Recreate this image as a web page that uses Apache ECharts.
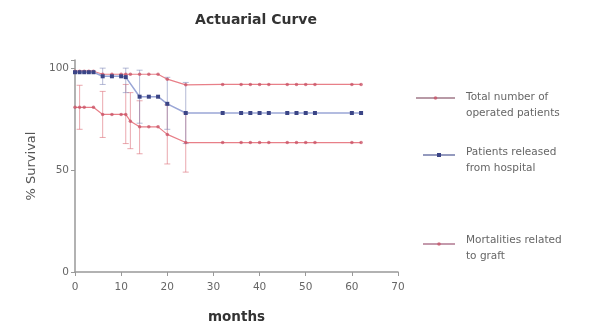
<!DOCTYPE html>
<html><head><meta charset="utf-8">
<script src="https://cdn.jsdelivr.net/npm/echarts@6/dist/echarts.min.js"></script>
<style>html,body{margin:0;padding:0;background:#fff}#c{width:597px;height:326px}</style>
</head><body><div id="c"></div>
<script>
// ---- data ----
const xTicks = [0,10,20,30,40,50,60,70];
const yTicks = [0,50,100];
const totalName = 'Total number of\noperated patients';
const blueName = 'Patients released\nfrom hospital';
const graftName = 'Mortalities related\nto graft';

const totalMonths = [0,1,2,3,4,6,8,10,11,12,14,16,18,20,24,32,36,38,40,42,46,48,50,52,60,62];
const totalVals   = [98.5,98.5,98.5,98.5,98.5,97,97,97,97,97,97,97,97,94.6,91.8,92,92,92,92,92,92,92,92,92,92,92];

const blueMonths = [0,1,2,3,4,6,8,10,11,14,16,18,20,24,32,36,38,40,42,46,48,50,52,60,62];
const blueVals   = [98,98,98,98,98,96,96,96,95.6,86,86,86,82.5,78,78,78,78,78,78,78,78,78,78,78,78];

const graftMonths = [0,1,2,4,6,8,10,11,12,14,16,18,20,24,32,36,38,40,42,46,48,50,52,60,62];
const graftVals   = [80.8,80.8,80.8,80.8,77.3,77.3,77.3,77.3,74,71.2,71.2,71.2,67.5,63.5,63.5,63.5,63.5,63.5,63.5,63.5,63.5,63.5,63.5,63.5,63.5];

const graftErrMonths = [1,6,11,12,14,20,24];
const graftErrLo     = [70,66,63,60.5,58,53,49];
const graftErrHi     = [91.6,88.6,92,88,84,82,78];

const blueErrMonths = [6,11,14,20,24];
const blueErrLo     = [92,88,73,70,63];
const blueErrHi     = [100,100,99,95.5,93];

// ---- chart ----
const RED = '#e87f88', RED_M = 'rgba(200,80,100,0.75)', BLUE_L = '#9aa6d6', BLUE_M = '#3b4586';
const font = 'DejaVu Sans';
function zip(a,b){return a.map((v,i)=>[v,b[i]]);}
function errData(m,lo,hi){return m.map((v,i)=>[v,lo[i],hi[i]]);}
function errSeries(data,color){
  return {type:'custom', silent:true, z:1, data:data,
    encode:{x:0,y:[1,2]},
    renderItem:function(params,api){
      const x=api.value(0), lo=api.coord([x,api.value(1)]), hi=api.coord([x,api.value(2)]);
      const c=3, st={stroke:color,lineWidth:1};
      return {type:'group',children:[
        {type:'line',shape:{x1:lo[0],y1:lo[1],x2:hi[0],y2:hi[1]},style:st},
        {type:'line',shape:{x1:lo[0]-c,y1:lo[1],x2:lo[0]+c,y2:lo[1]},style:st},
        {type:'line',shape:{x1:hi[0]-c,y1:hi[1],x2:hi[0]+c,y2:hi[1]},style:st}
      ]};
    }};
}
function legendItem(name,x1,x2,y,ty,lineColor,markColor,markShape){
  const cx=(x1+x2)/2;
  const mark = markShape==='rect'
    ? {type:'rect',shape:{x:cx-2,y:y-2,width:4,height:4},style:{fill:markColor}}
    : {type:'circle',shape:{cx:cx,cy:y,r:1.8},style:{fill:markColor}};
  return [
    {type:'line',shape:{x1:x1,y1:y,x2:x2,y2:y},style:{stroke:lineColor,lineWidth:1.5}},
    mark,
    {type:'text',left:466,top:ty,style:{text:name,fontFamily:font,fontSize:10.5,fill:'#666',lineHeight:16}}
  ];
}
const chart = echarts.init(document.getElementById('c'));
chart.setOption({
  animation:false,
  backgroundColor:'#fff',
  title:{text:'Actuarial Curve',left:251,textAlign:'center',top:8,
    textStyle:{fontFamily:font,fontSize:14,fontWeight:'bold',color:'#333'}},
  grid:{left:75,right:199,top:60,bottom:54,containLabel:false,outerBoundsMode:'none'},
  graphic:[].concat(
    legendItem(totalName,416,455,98,89,'#a07888',RED_M,'dot'),
    legendItem(blueName,423,455,155,144,'#7078a8',BLUE_M,'rect'),
    legendItem(graftName,423,455,244,232,'#b07890',RED_M,'dot')
  ),
  xAxis:{type:'value',min:0,max:70,interval:10,
    name:'months',nameLocation:'middle',nameGap:38,
    nameTextStyle:{fontFamily:font,fontSize:13.5,fontWeight:'bold',color:'#333'},
    axisLine:{lineStyle:{color:'#999',width:1.5}},
    axisTick:{show:true,length:4,lineStyle:{color:'#999'}},
    axisLabel:{fontFamily:font,fontSize:10.5,color:'#666',margin:10},
    splitLine:{show:false}},
  yAxis:{type:'value',min:0,max:104,interval:50,
    name:'% Survival',nameLocation:'middle',nameGap:36,
    nameTextStyle:{fontFamily:font,fontSize:13,color:'#555'},
    axisLine:{show:true,lineStyle:{color:'#999',width:1.5}},
    axisTick:{show:true,length:4,lineStyle:{color:'#999'}},
    axisLabel:{fontFamily:font,fontSize:10.5,color:'#666',margin:6,
      formatter:function(v){return yTicks.indexOf(v)>=0?String(v):'';}},
    splitLine:{show:false}},
  series:[
    errSeries(errData(graftErrMonths,graftErrLo,graftErrHi),'rgba(220,110,120,0.6)'),
    errSeries(errData(blueErrMonths,blueErrLo,blueErrHi),'rgba(120,130,180,0.55)'),
    {name:totalName,type:'line',data:zip(totalMonths,totalVals),z:3,
      lineStyle:{color:RED,width:1.2},itemStyle:{color:RED_M},
      symbol:'circle',symbolSize:3.5},
    {name:blueName,type:'line',data:zip(blueMonths,blueVals),z:4,
      lineStyle:{color:BLUE_L,width:1.5},itemStyle:{color:BLUE_M},
      symbol:'rect',symbolSize:4},
    {name:graftName,type:'line',data:zip(graftMonths,graftVals),z:3,
      lineStyle:{color:RED,width:1.2},itemStyle:{color:RED_M},
      symbol:'circle',symbolSize:3.5}
  ]
});
</script></body></html>
